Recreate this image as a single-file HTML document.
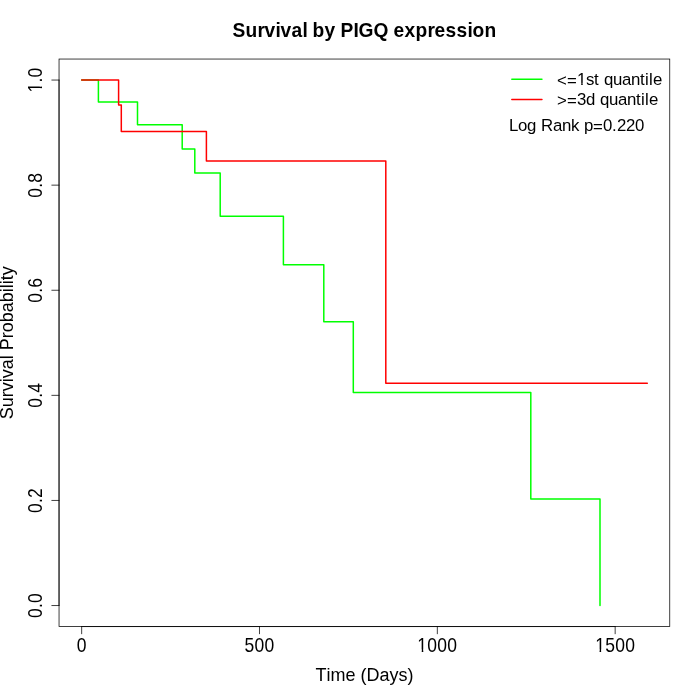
<!DOCTYPE html>
<html><head><meta charset="utf-8">
<title>Survival by PIGQ expression</title>
<style>
html,body{margin:0;padding:0;background:#fff;width:700px;height:700px;overflow:hidden}
svg{display:block;will-change:transform}
text{font-family:"Liberation Sans",sans-serif;fill:#000}
</style></head>
<body>
<svg width="700" height="700" viewBox="0 0 700 700">
<!-- survival curves -->
<g fill="none" stroke-width="1.5" stroke-linejoin="round" stroke-linecap="round">
<path stroke="#00ff00" d="M81.66 80.06 H98.4 V101.95 H137.5 V124.85 H182.2 V148.88 H194.8 V172.91 H220.2 V216.18 H283.4 V264.85 H323.8 V321.63 H353.3 V392.61 H530.8 V499.07 H600 V605.54"/>
<path stroke="#ff0000" d="M81.66 80.06 H118.6 V105.08 H121.3 V131.42 H206.4 V161.06 H385.8 V383.3 H647.3"/>
</g>
<!-- plot box and axes -->
<g fill="none" stroke="#000" stroke-width="0.75" stroke-linecap="round">
<rect x="59.04" y="59.04" width="610.72" height="567.52"/>
<path d="M81.66 626.56 H615.17 M81.66 626.56 V633.76 M259.49 626.56 V633.76 M437.33 626.56 V633.76 M615.17 626.56 V633.76"/>
<path d="M59.04 605.54 V80.06 M59.04 605.54 H51.84 M59.04 500.44 H51.84 M59.04 395.35 H51.84 M59.04 290.25 H51.84 M59.04 185.15 H51.84 M59.04 80.06 H51.84"/>
</g>
<!-- title -->
<text transform="translate(0,36.7) scale(1,1.075)" x="232.4 245.4 257.4 264.4 275.4 280.4 291.4 302.4 307.4 312.4 324.4 335.4 340.4 353.4 358.4 373.4 388.4 393.4 404.4 415.4 427.4 434.4 445.4 456.4 467.4 472.4 484.4" y="0" font-size="19.2" font-weight="bold">Survival by PIGQ expression</text>
<!-- x tick labels -->
<g transform="translate(0,651.5) scale(1,1.13)"><text x="76.66" y="0" font-size="17.5">0</text></g>
<g transform="translate(0,651.5) scale(1,1.13)"><text x="244.5 254.5 264.5" y="0" font-size="17.5">500</text></g>
<g transform="translate(0,651.5) scale(1,1.13)"><text x="417.33 427.33 437.33 447.33" y="0" font-size="17.5">1000</text><g fill="#fff"><rect x="417.67" y="-1.76" width="4.07" height="2.66"/><rect x="423.28" y="-1.76" width="3.93" height="2.66"/></g></g>
<g transform="translate(0,651.5) scale(1,1.13)"><text x="595.17 605.17 615.17 625.17" y="0" font-size="17.5">1500</text><g fill="#fff"><rect x="595.50" y="-1.76" width="4.07" height="2.66"/><rect x="601.12" y="-1.76" width="3.93" height="2.66"/></g></g>
<!-- y tick labels -->
<g transform="translate(41.8,605.54) rotate(-90) scale(1,1.13)"><text x="-12.5 -2.5 2.5" y="0" font-size="17.5">0.0</text></g>
<g transform="translate(41.8,500.44) rotate(-90) scale(1,1.13)"><text x="-12.5 -2.5 2.5" y="0" font-size="17.5">0.2</text></g>
<g transform="translate(41.8,395.35) rotate(-90) scale(1,1.13)"><text x="-12.5 -2.5 2.5" y="0" font-size="17.5">0.4</text></g>
<g transform="translate(41.8,290.25) rotate(-90) scale(1,1.13)"><text x="-12.5 -2.5 2.5" y="0" font-size="17.5">0.6</text></g>
<g transform="translate(41.8,185.16) rotate(-90) scale(1,1.13)"><text x="-12.5 -2.5 2.5" y="0" font-size="17.5">0.8</text></g>
<g transform="translate(41.8,80.06) rotate(-90) scale(1,1.13)"><text x="-12.5 -2.5 2.5" y="0" font-size="17.5">1.0</text><g fill="#fff"><rect x="-12.17" y="-1.76" width="4.07" height="2.66"/><rect x="-6.55" y="-1.76" width="3.93" height="2.66"/></g></g>
<!-- axis titles -->
<text transform="translate(0,680.9) scale(1,1.07)" x="315.4 326.4 330.4 345.4 355.4 360.4 366.4 379.4 389.4 398.4 407.4" y="0" font-size="18">Time (Days)</text>
<text transform="translate(12.9,342.8) rotate(-90) scale(1,1.07)" x="-76.5 -64.5 -54.5 -48.5 -39.5 -35.5 -26.5 -16.5 -12.5 -7.5 4.5 10.5 20.5 30.5 40.5 50.5 54.5 58.5 62.5 67.5" y="0" font-size="18">Survival Probability</text>
<!-- legend -->
<g stroke-width="1.5" fill="none" stroke-linecap="round">
<path stroke="#00ff00" d="M511.8 79.25 H541.95"/>
<path stroke="#ff0000" d="M511.8 99.4 H541.95"/>
</g>
<text transform="translate(0,84.6) scale(1,1.0)" x="557 567 577 586 594 599 604 613 622 631 640 645 649 653" y="0" dy="1.5 0 -1.5 0 0 0 0 0 0 0 0 0 0 0" font-size="16.8">&lt;=1st quantile</text>
<g transform="translate(0,84.6)" fill="#fff"><rect x="577.28" y="-1.71" width="3.94" height="2.61"/><rect x="582.71" y="-1.71" width="3.81" height="2.61"/></g>
<text transform="translate(0,104.6) scale(1,1.0)" x="557 567 577 586 595 600 609 618 627 636 641 645 649" y="0" dy="1.5 0 -1.5 0 0 0 0 0 0 0 0 0 0" font-size="16.8">&gt;=3d quantile</text>
<text transform="translate(0,130.9) scale(1,1.0)" x="509 518 527 536 541 553 562 571 579 584 593 603 612 617 626 635" y="0" dy="0 0 0 0 0 0 0 0 0 0 1.5 -1.5 0 0 0 0" font-size="16.8">Log Rank p=0.220</text>
</svg>
</body></html>
